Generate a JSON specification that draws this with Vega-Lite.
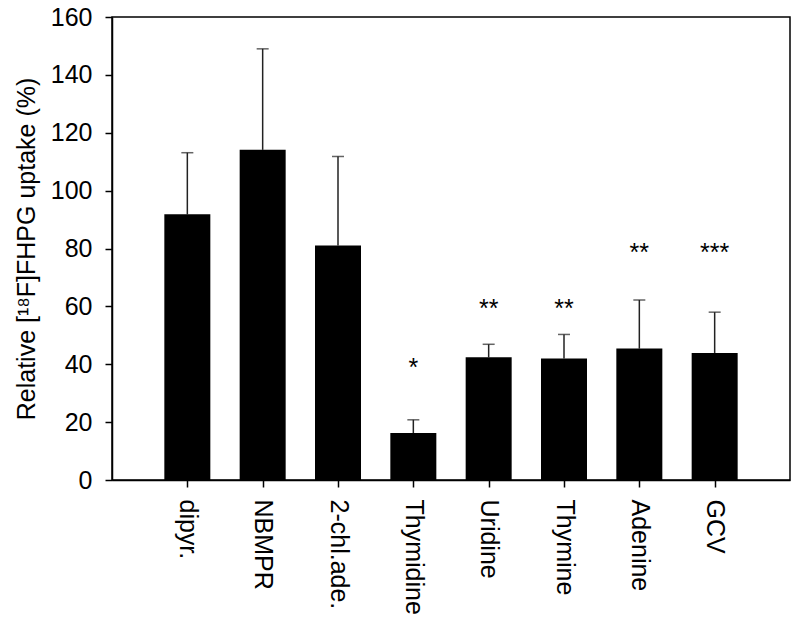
{
  "$schema": "https://vega.github.io/schema/vega-lite/v6.json",
  "width": 678,
  "height": 463,
  "autosize": {"type": "none"},
  "padding": {"left": 112, "top": 17, "right": 6, "bottom": 138},
  "background": "white",
  "config": {
    "view": {"stroke": "black", "strokeWidth": 1.5},
    "font": "Liberation Sans",
    "axis": {
      "domainColor": "black", "tickColor": "black", "labelColor": "black", "titleColor": "black",
      "labelFont": "Liberation Sans", "titleFont": "Liberation Sans",
      "labelFontSize": 25, "titleFontSize": 25, "titleFontWeight": "normal",
      "tickSize": 7, "domainWidth": 1.5, "tickWidth": 1.5, "grid": false
    },
    "axisY": {"labelPadding": 13, "titlePadding": 11},
    "axisX": {"labelAngle": 90, "labelAlign": "left", "labelBaseline": "middle", "labelPadding": 12}
  },
  "data": {
    "values": [
      {"agent": "dipyr.", "mean": 91.8, "upper": 113.1, "sig": "", "star_y": null},
      {"agent": "NBMPR", "mean": 114.1, "upper": 149.0, "sig": "", "star_y": null},
      {"agent": "2-chl.ade.", "mean": 81.0, "upper": 111.8, "sig": "", "star_y": null},
      {"agent": "Thymidine", "mean": 16.2, "upper": 20.8, "sig": "*", "star_y": 40.8},
      {"agent": "Uridine", "mean": 42.4, "upper": 46.9, "sig": "**", "star_y": 61.0},
      {"agent": "Thymine", "mean": 42.0, "upper": 50.3, "sig": "**", "star_y": 61.0},
      {"agent": "Adenine", "mean": 45.4, "upper": 62.2, "sig": "**", "star_y": 80.6},
      {"agent": "GCV", "mean": 43.9, "upper": 58.0, "sig": "***", "star_y": 80.6}
    ]
  },
  "encoding": {
    "x": {"field": "agent", "type": "nominal", "sort": null, "title": null, "scale": {"type": "point", "padding": 1}}
  },
  "layer": [
    {
      "mark": {"type": "rule", "color": "#222222", "strokeWidth": 1.5},
      "encoding": {
        "y": {"field": "mean", "type": "quantitative", "scale": {"domain": [0, 160]}, "title": "Relative [¹⁸F]FHPG uptake (%)", "axis": {"values": [0, 20, 40, 60, 80, 100, 120, 140, 160]}},
        "y2": {"field": "upper"}
      }
    },
    {
      "mark": {"type": "tick", "orient": "horizontal", "size": 12, "thickness": 1.5, "color": "#222222"},
      "encoding": {
        "y": {"field": "upper", "type": "quantitative", "scale": {"domain": [0, 160]}, "title": "Relative [¹⁸F]FHPG uptake (%)", "axis": {"values": [0, 20, 40, 60, 80, 100, 120, 140, 160]}}
      }
    },
    {
      "mark": {"type": "bar", "size": 46, "color": "black"},
      "encoding": {
        "y": {"field": "mean", "type": "quantitative", "scale": {"domain": [0, 160]}, "title": "Relative [¹⁸F]FHPG uptake (%)", "axis": {"values": [0, 20, 40, 60, 80, 100, 120, 140, 160]}}
      }
    },
    {
      "transform": [{"filter": "datum.sig != ''"}],
      "mark": {"type": "text", "font": "Liberation Sans", "fontSize": 25, "color": "black", "baseline": "alphabetic", "dy": 14},
      "encoding": {
        "y": {"field": "star_y", "type": "quantitative", "scale": {"domain": [0, 160]}, "title": "Relative [¹⁸F]FHPG uptake (%)", "axis": {"values": [0, 20, 40, 60, 80, 100, 120, 140, 160]}},
        "text": {"field": "sig"}
      }
    }
  ]
}
